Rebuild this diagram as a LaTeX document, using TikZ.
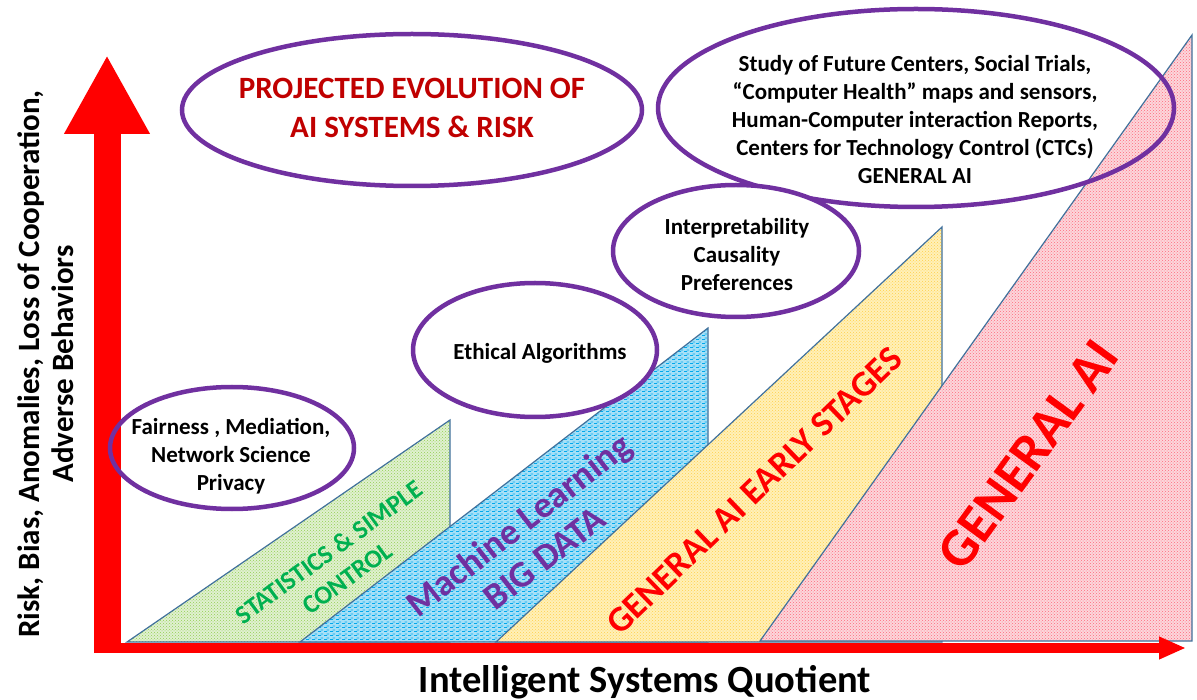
\documentclass[tikz,border=0pt]{standalone}
\usepackage{fontspec}
\setmainfont{Carlito}
\usetikzlibrary{arrows.meta,patterns,patterns.meta,positioning}

\definecolor{axisred}{HTML}{FF0000}
\definecolor{titlered}{HTML}{C00000}
\definecolor{bubblepurple}{HTML}{7030A0}
\definecolor{edgeblue}{HTML}{41719C}
\definecolor{statgreen}{HTML}{00B050}
\definecolor{statfill}{HTML}{E0F0D0}
\definecolor{statdots}{HTML}{92D050}
\definecolor{mlfill}{HTML}{A6E0F7}
\definecolor{mldots}{HTML}{00A8EC}
\definecolor{earlyfill}{HTML}{FFF0B8}
\definecolor{earlydots}{HTML}{FFD04A}
\definecolor{genfill}{HTML}{FCD6DB}
\definecolor{gendots}{HTML}{FF6A7C}

% short staggered dashes for the machine learning stage
\tikzdeclarepattern{
  name=dashbricks,
  type=uncolored,
  bottom left={(0pt,0pt)},
  top right={(6pt,4pt)},
  tile size={(6pt,4pt)},
  code={
    \draw[line width=0.9pt] (0pt,0.5pt) -- (3.6pt,0.5pt);
    \draw[line width=0.9pt] (3pt,2.5pt) -- (6pt,2.5pt);
  }
}

\tikzset{
  axis/.style={draw=axisred, color=axisred},
  ramp/.style={draw=edgeblue, line width=1.2pt},
  bubble/.style={draw=bubblepurple, line width=4.5pt},
  bubbletext/.style={align=center, font=\bfseries\fontsize{23}{28}\selectfont},
}

\begin{document}
\begin{tikzpicture}[x=1pt,y=-1pt]
\useasboundingbox (0,0) rectangle (1197,700);
% define corners of the four stages
\coordinate (S1) at (127,642);
\coordinate (S2) at (450,420);
\coordinate (S3) at (450,642);
\coordinate (M1) at (300,642);
\coordinate (M2) at (708,328);
\coordinate (M3) at (708,642);
\coordinate (E1) at (496,642);
\coordinate (E2) at (942,227);
\coordinate (E3) at (942,642);
\coordinate (G1) at (760,641);
\coordinate (G2) at (1192,35);
\coordinate (G3) at (1192,641);
% draw the stages, each one over the last
\draw[ramp, preaction={fill=statfill}, pattern=crosshatch dots, pattern color=statdots] (S1) -- (S2) -- (S3) -- cycle;
\draw[ramp, preaction={fill=mlfill}, pattern=dashbricks, pattern color=mldots] (M1) -- (M2) -- (M3) -- cycle;
\draw[ramp, preaction={fill=earlyfill}, pattern=crosshatch dots, pattern color=earlydots] (E1) -- (E2) -- (E3) -- cycle;
\draw[ramp, preaction={fill=genfill}, pattern=crosshatch dots, pattern color=gendots] (G1) -- (G2) -- (G3) -- cycle;
% label the stages
\node[align=center, text=statgreen, rotate=36, font=\bfseries\fontsize{26}{32}\selectfont] (stat) at (338,565) {STATISTICS \& SIMPLE\\CONTROL};
\node[align=center, text=bubblepurple, rotate=38, font=\bfseries\fontsize{37}{42}\selectfont] (ml) at (531,541) {Machine Learning\\BIG DATA};
\node[text=axisred, rotate=44, font=\bfseries\fontsize{36}{40}\selectfont] (early) at (754,491) {GENERAL AI EARLY STAGES};
\node[text=axisred, rotate=54, font=\bfseries\fontsize{54}{60}\selectfont] (general) at (1028,455) {GENERAL AI};
% axes
\coordinate (O) at (107,653);
\coordinate (Y) at (107,55);
\coordinate (X0) at (94,648);
\coordinate (X) at (1186,648);
\draw[axis, line width=27pt, -{Triangle[length=79pt,width=80pt]}] (O) -- (Y);
\draw[axis, line width=10pt, -{Triangle[length=27pt,width=21pt]}] (X0) -- (X);
\node[align=center, rotate=90, font=\bfseries\fontsize{31}{34}\selectfont] (ylab) at (46,364) {Risk, Bias, Anomalies, Loss of Cooperation,\\Adverse Behaviors};
\node[anchor=base, font=\bfseries\fontsize{38.5}{44}\selectfont] (xlab) at (645,692) {Intelligent Systems Quotient};
% bubbles
\coordinate (title) at (412,110);
\coordinate (future) at (916,108);
\coordinate (interp) at (736,251);
\coordinate (ethic) at (535,350);
\coordinate (fair) at (232,448);
\draw[bubble, fill=white] (title) ellipse [x radius=230pt, y radius=76pt];
\draw[bubble] (future) ellipse [x radius=258pt, y radius=99pt];
\draw[bubble, fill=white] (interp) ellipse [x radius=123pt, y radius=66pt];
\draw[bubble, fill=white] (ethic) ellipse [x radius=122pt, y radius=67pt];
\draw[bubble] (fair) ellipse [x radius=122pt, y radius=61pt];
\node[bubbletext, text=titlered, font=\bfseries\fontsize{31}{39}\selectfont] (titletext) at (412,108) {PROJECTED EVOLUTION OF\\AI SYSTEMS \& RISK};
\node[bubbletext] (futuretext) at (915,120) {Study of Future Centers, Social Trials,\\``Computer Health'' maps and sensors,\\Human-Computer interaction Reports,\\Centers for Technology Control (CTCs)\\GENERAL AI};
\node[bubbletext] (interptext) at (737,255) {Interpretability\\Causality\\Preferences};
\node[bubbletext] (ethictext) at (540,353) {Ethical Algorithms};
\node[bubbletext] (fairtext) at (231,456) {Fairness , Mediation,\\Network Science\\Privacy};
\end{tikzpicture}
\end{document}
